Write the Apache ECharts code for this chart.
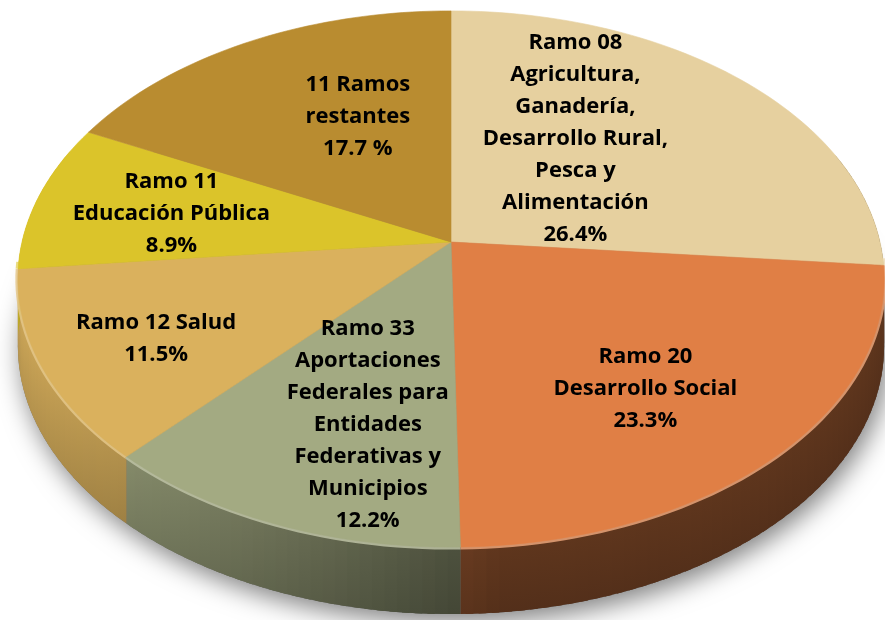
<!DOCTYPE html>
<html>
<head>
<meta charset="utf-8">
<script src="https://cdn.jsdelivr.net/npm/echarts@6/dist/echarts.min.js"></script>
<style>
  html, body { margin: 0; padding: 0; background: #ffffff; }
  #chart { width: 885px; height: 620px; }
</style>
</head>
<body>
<div id="chart"></div>
<script>
// Budget shares by ramo (percent of total)
const categories = [
  'Ramo 08\nAgricultura,\nGanadería,\nDesarrollo Rural,\nPesca y\nAlimentación',
  'Ramo 20\nDesarrollo Social',
  'Ramo 33\nAportaciones\nFederales para\nEntidades\nFederativas y\nMunicipios',
  'Ramo 12 Salud',
  'Ramo 11\nEducación Pública',
  '11 Ramos\nrestantes'
];
const shares = [26.4, 23.3, 12.2, 11.5, 8.9, 17.7];
const percentSeparators = ['', '', '', '', '', ' '];

const sliceColors = ['#e6d09f', '#e07f45', '#a3aa82', '#dab15d', '#dbc42a', '#b98c30'];

// Label anchors: radius fraction and angular nudge (degrees) from each slice's mid-angle
const labelAnchors = [[0.515, -11], [0.668, 4], [0.659, -5.3], [0.742, -1.7], [0.67, -1], [0.559, 7.3]];

// Tilted disc: centre, projected radii, perspective foreshortening, rim depth (px)
const CX = 451, CY = 242, RX = 429, RY = 263, PERSP = 0.138, DEPTH = 67;

function project(theta, r, drop) {
  const u = r * Math.sin(theta), v = r * Math.cos(theta);
  const k = 1 / (1 + PERSP * v);
  return [CX + RX * u * k, CY - RY * v * k + drop];
}

function hexToRgb(h) {
  const n = parseInt(h.slice(1), 16);
  return [(n >> 16) & 255, (n >> 8) & 255, n & 255];
}
function scaleColor(h, f) {
  const c = hexToRgb(h).map(x => Math.max(0, Math.min(255, Math.round(x * f))));
  return 'rgb(' + c.join(',') + ')';
}
function mixWhite(h, t) {
  const c = hexToRgb(h).map(x => Math.round(x + (255 - x) * t));
  return 'rgb(' + c.join(',') + ')';
}
// Side walls lit from the left
function wallShade(theta) {
  const lit = Math.max(0, (-Math.sin(theta) - 0.1 * Math.cos(theta)) / 1.005);
  return 0.40 + 0.5 * lit;
}

const total = shares.reduce((a, b) => a + b, 0);
const TAU = Math.PI * 2;

function renderItem(params, api) {
  const i = params.dataIndex;
  let before = 0;
  for (let j = 0; j < i; j++) before += shares[j];
  const value = api.value(0);
  const a0 = before / total * TAU;
  const a1 = (before + value) / total * TAU;
  const color = sliceColors[i];
  const children = [];

  // soft shadow under the whole disc
  if (i === 0) {
    const outline = [];
    for (let m = 0; m <= 180; m++) outline.push(project(m / 180 * TAU, 1, DEPTH));
    children.push({
      type: 'polygon', z2: 0,
      shape: { points: outline },
      style: { fill: '#6f6f6f', shadowBlur: 26, shadowColor: 'rgba(0,0,0,0.5)', shadowOffsetX: 4, shadowOffsetY: 8 }
    });
  }

  // outer rim wall, in thin overlapping bands
  const steps = Math.max(2, Math.ceil((a1 - a0) / (Math.PI / 120)));
  const span = (a1 - a0) / steps;
  for (let k = 0; k < steps; k++) {
    const t0 = a0 + span * k;
    const t1 = Math.min(a1, t0 + span * 1.6);
    const tm = t0 + span / 2;
    if (Math.cos(tm) > 0.35) continue;
    const f = wallShade(tm);
    const pts = [project(t0, 1, 0), project(t1, 1, 0), project(t1, 1, DEPTH), project(t0, 1, DEPTH)];
    children.push({
      type: 'polygon', z2: 1,
      shape: { points: pts },
      style: {
        fill: {
          type: 'linear', x: 0, y: 0, x2: 0, y2: 1,
          colorStops: [
            { offset: 0, color: scaleColor(color, f * 1.06) },
            { offset: 1, color: scaleColor(color, f * 0.93) }
          ]
        }
      }
    });
  }

  // bevel highlight along the front edge
  const rim = [];
  for (let k = 0; k <= steps; k++) {
    const t = a0 + span * k;
    if (Math.cos(t) <= -0.05) rim.push(project(t, 1, 0));
  }
  if (rim.length > 1) {
    children.push({
      type: 'polyline', z2: 5,
      shape: { points: rim },
      style: { stroke: mixWhite(color, 0.28), lineWidth: 5, fill: null, opacity: 0.85 }
    });
  }

  // top face
  const top = [project(0, 0, 0)];
  for (let k = 0; k <= steps; k++) top.push(project(a0 + span * k, 1, 0));
  children.push({
    type: 'polygon', z2: 10,
    shape: { points: top },
    style: { fill: color, stroke: color, lineWidth: 0.6 }
  });

  // label
  const anchor = labelAnchors[i];
  const mid = (a0 + a1) / 2 + anchor[1] * Math.PI / 180;
  const p = project(mid, anchor[0], 0);
  children.push({
    type: 'text', z2: 20,
    x: p[0], y: p[1],
    style: {
      text: categories[i] + '\n' + value.toFixed(1) + percentSeparators[i] + '%',
      fill: '#000000',
      fontFamily: 'Open Sans',
      fontWeight: 'bold',
      fontSize: 22,
      lineHeight: 32,
      align: 'center',
      verticalAlign: 'middle'
    }
  });

  return { type: 'group', children };
}

const chart = echarts.init(document.getElementById('chart'), null, { renderer: 'canvas' });
chart.setOption({
  backgroundColor: '#ffffff',
  animation: false,
  series: [{
    type: 'custom',
    coordinateSystem: 'none',
    silent: true,
    renderItem: renderItem,
    data: shares.map(v => [v])
  }]
});
</script>
</body>
</html>
